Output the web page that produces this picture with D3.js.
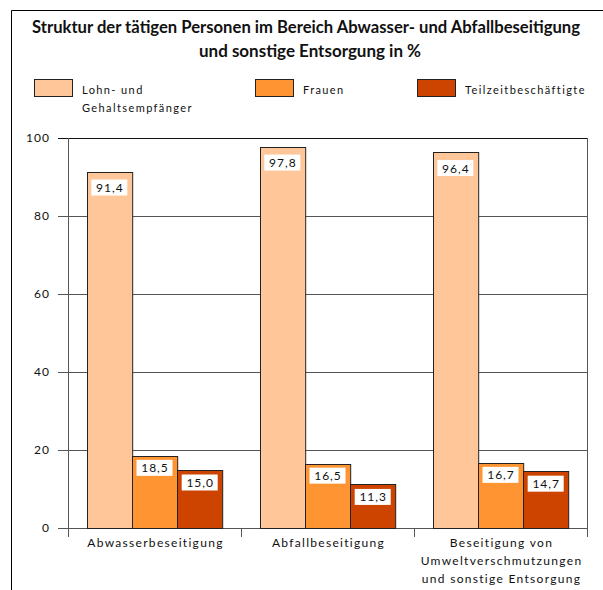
<!DOCTYPE html>
<html>
<head>
<meta charset="utf-8">
<script src="https://cdn.jsdelivr.net/npm/d3@7"></script>
<style>
  html, body { margin: 0; padding: 0; background: #fff; }
  svg { display: block; }
  text { font-family: Lato, "DejaVu Sans", sans-serif; fill: #111; }
</style>
</head>
<body>
<script>
const titleLines = ["Struktur der tätigen Personen im Bereich Abwasser- und Abfallbeseitigung",
                    "und sonstige Entsorgung in %"];
const categories = ["Abwasserbeseitigung", "Abfallbeseitigung",
                    "Beseitigung von Umweltverschmutzungen und sonstige Entsorgung"];
const categoryLines = [["Abwasserbeseitigung"], ["Abfallbeseitigung"],
                       ["Beseitigung von", "Umweltverschmutzungen", "und sonstige Entsorgung"]];
const seriesNames = ["Lohn- und Gehaltsempfänger", "Frauen", "Teilzeitbeschäftigte"];
const seriesLegendLines = [["Lohn- und", "Gehaltsempfänger"], ["Frauen"], ["Teilzeitbeschäftigte"]];
const lohnValues = [91.4, 97.8, 96.4];
const frauenValues = [18.5, 16.5, 16.7];
const teilzeitValues = [15.0, 11.3, 14.7];
const yTicks = [0, 20, 40, 60, 80, 100];
const colors = ["#FFC799", "#FF9433", "#CC4400"];

(function() {
const seriesValues = [lohnValues, frauenValues, teilzeitValues];
const W = 603, H = 590;
const svg = d3.select("body").append("svg").attr("width", W).attr("height", H);

// outer frame
svg.append("path").attr("d", `M11.5,${H} V10.5 H${W}`).attr("fill", "none").attr("stroke", "#000").attr("stroke-width", 1);

// title
const titleLen = [548, 222];
svg.selectAll("text.title").data(titleLines).join("text")
  .attr("class", "title")
  .attr("x", (d, i) => i === 0 ? 306 : 310).attr("y", (d, i) => 33 + i * 24)
  .attr("text-anchor", "middle")
  .attr("textLength", (d, i) => titleLen[i]).attr("lengthAdjust", "spacingAndGlyphs")
  .style("font-weight", "bold").style("font-size", "16.5px")
  .text(d => d);

// legend
const legendX = [34, 255, 417];
const lg = svg.selectAll("g.legend").data(seriesNames).join("g")
  .attr("class", "legend")
  .attr("transform", (d, i) => `translate(${legendX[i]},79)`);
lg.append("rect").attr("x", 0.5).attr("y", 0.5).attr("width", 38).attr("height", 17)
  .attr("fill", (d, i) => colors[i]).attr("stroke", "#222");
lg.each(function(d, i) {
  d3.select(this).selectAll("text").data(seriesLegendLines[i]).join("text")
    .attr("x", 48).attr("y", (t, j) => 15 + j * 18)
    .style("font-size", "11px").style("letter-spacing", "1.4px")
    .text(t => t);
});

// scales
const pL = 68, pR = 587, pT = 138, pB = 528;
const y = d3.scaleLinear().domain([0, 100]).range([pB, pT]);
const x0 = d3.scaleBand().domain(categories).range([pL, pR]).padding(0);
const x1 = d3.scaleBand().domain(seriesNames).range([0, x0.bandwidth()]).paddingInner(0).paddingOuter(0.414);

// gridlines + y axis ticks
const yAxis = d3.axisLeft(y).tickValues(yTicks).tickSize(0).tickPadding(0).tickFormat(d3.format("d"));
const gy = svg.append("g").attr("transform", `translate(${pL},0)`).call(yAxis);
gy.select(".domain").remove();
gy.selectAll(".tick line").attr("x1", -10).attr("x2", pR - pL)
  .attr("stroke", d => d === 100 ? "#111" : "#555");
gy.selectAll(".tick text").attr("x", -18)
  .style("font-size", "12px").style("letter-spacing", "1px").style("font-family", "Lato, sans-serif").attr("fill", "#222");

// y axis line and right border
svg.append("line").attr("x1", pL + 0.5).attr("x2", pL + 0.5).attr("y1", pT).attr("y2", pB + 9).attr("stroke", "#555");
svg.append("line").attr("x1", pR + 0.5).attr("x2", pR + 0.5).attr("y1", pT).attr("y2", pB + 9).attr("stroke", "#555");

// category ticks
svg.selectAll("line.ctick").data(categories.slice(1)).join("line")
  .attr("class", "ctick")
  .attr("x1", d => Math.round(x0(d)) + 0.5).attr("x2", d => Math.round(x0(d)) + 0.5)
  .attr("y1", pB).attr("y2", pB + 9).attr("stroke", "#555");

// bars
const barData = [];
categories.forEach((c, ci) => seriesNames.forEach((s, si) => barData.push({c, s, si, v: seriesValues[si][ci]})));
svg.selectAll("rect.bar").data(barData).join("rect")
  .attr("class", "bar")
  .attr("x", d => Math.round(x0(d.c) + x1(d.s)) + 0.5)
  .attr("y", d => Math.round(y(d.v)) + 0.5)
  .attr("width", x1.bandwidth())
  .attr("height", d => pB - Math.round(y(d.v)))
  .attr("fill", d => colors[d.si]).attr("stroke", "#222");

// value labels
const fmt = v => v.toFixed(1).replace(".", ",");
const labelOffset = [8, 4, 5];
const lbl = svg.selectAll("g.vlabel").data(barData).join("g")
  .attr("class", "vlabel")
  .attr("transform", d => `translate(${x0(d.c) + x1(d.s) + x1.bandwidth() / 2},${y(d.v) + labelOffset[d.si]})`);
lbl.append("rect").attr("x", -18).attr("y", 0).attr("width", 36).attr("height", 16).attr("fill", "#fff");
lbl.append("text").attr("x", 0.5).attr("y", 12.5).attr("text-anchor", "middle")
  .style("font-size", "12px").style("letter-spacing", "1px")
  .text(d => fmt(d.v));

// category labels
const cl = svg.selectAll("g.clabel").data(categories).join("g")
  .attr("class", "clabel")
  .attr("transform", d => `translate(${x0(d) + x0.bandwidth() / 2 + 1},547)`);
cl.each(function(d, i) {
  d3.select(this).selectAll("text").data(categoryLines[i]).join("text")
    .attr("x", 0).attr("y", (t, j) => j * 18)
    .attr("text-anchor", "middle")
    .style("font-size", "12px").style("letter-spacing", "1.3px")
    .text(t => t);
});
})();
</script>
</body>
</html>
